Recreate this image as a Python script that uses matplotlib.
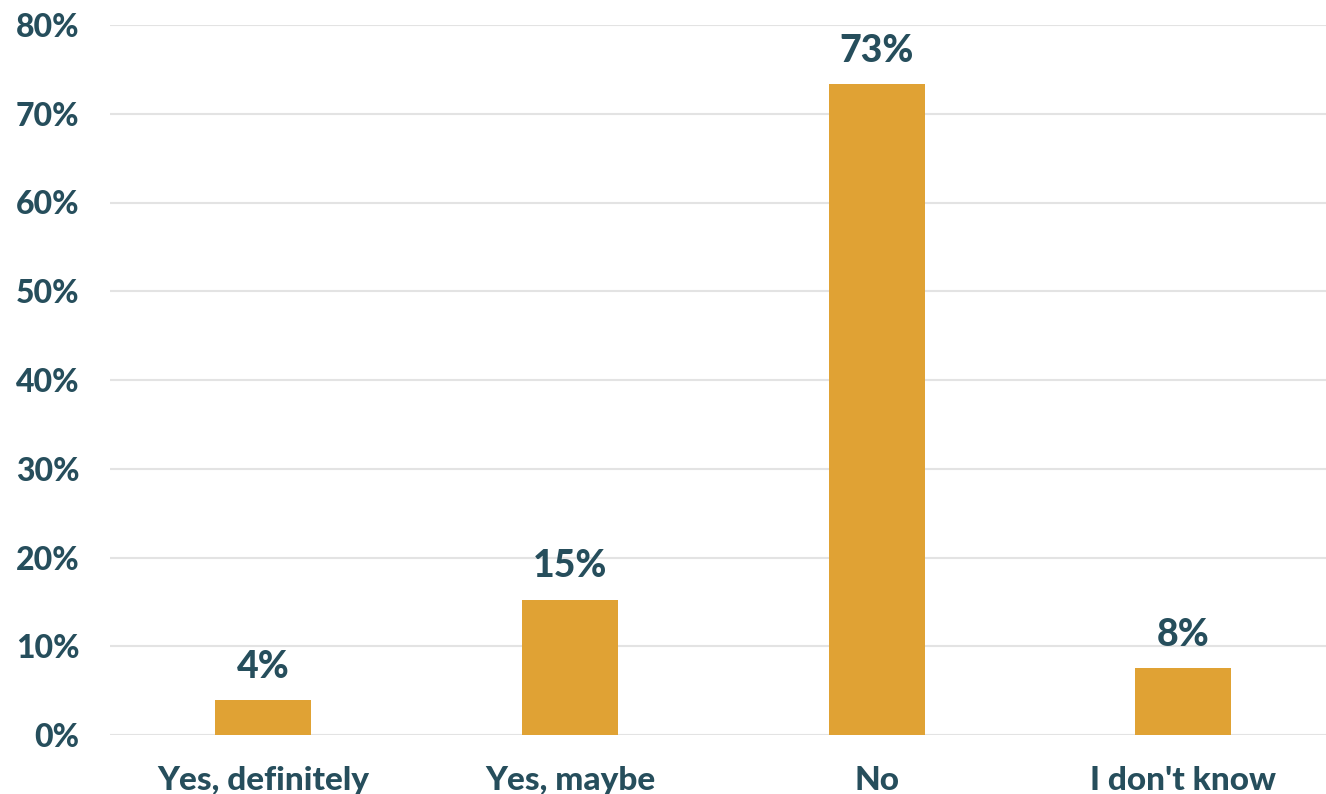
import matplotlib
matplotlib.use("Agg")
import matplotlib.pyplot as plt

categories = ["Yes, definitely", "Yes, maybe", "No", "I don't know"]
values = [3.9, 15.2, 73.3, 7.5]
labels = ["4%", "15%", "73%", "8%"]
yticks = [0, 10, 20, 30, 40, 50, 60, 70, 80]

BAR = "#E0A234"
TEXT = "#264E5C"
GRID = "#E3E3E3"

plt.rcParams["font.family"] = ["Lato", "DejaVu Sans"]

fig = plt.figure(figsize=(13.26, 7.94), dpi=100)
ax = fig.add_axes([110 / 1326, 1 - 735 / 794, 1216 / 1326, 710 / 794])

x = list(range(len(categories)))
bars = ax.bar(x, values, width=0.313, color=BAR, zorder=3)

for b, lab in zip(bars, labels):
    ax.annotate(lab, (b.get_x() + b.get_width() / 2, b.get_height()),
                xytext=(0, 12), textcoords="offset points",
                ha="center", va="bottom", fontsize=27, fontweight="black", color=TEXT)

ax.set_xlim(-0.5, 3.465)
ax.set_ylim(0, 80)
ax.set_yticks(yticks)
ax.set_yticklabels([f"{t}%" for t in yticks])
ax.set_xticks(x)
ax.set_xticklabels(categories)

ax.grid(axis="y", color=GRID, linewidth=1.5, zorder=0)
ax.tick_params(axis="both", length=0, labelcolor=TEXT)
ax.tick_params(axis="y", pad=22, labelsize=23)
ax.tick_params(axis="x", pad=22, labelsize=24)
for lab in ax.get_xticklabels() + ax.get_yticklabels():
    lab.set_fontweight("black")
for s in ax.spines.values():
    s.set_visible(False)

fig.savefig("out.png", dpi=100)
